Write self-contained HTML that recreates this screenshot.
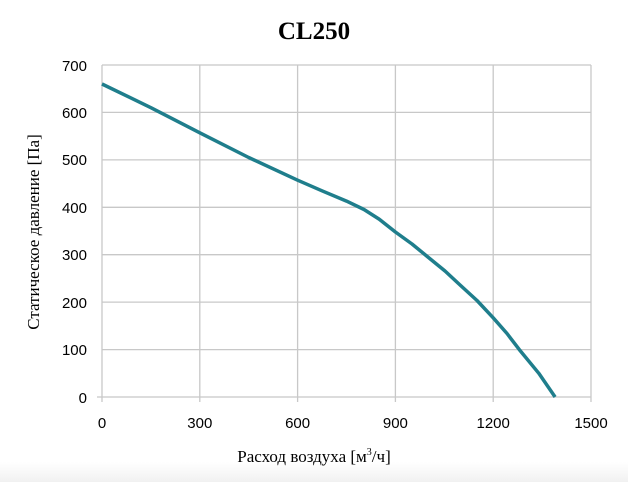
<!DOCTYPE html>
<html><head><meta charset="utf-8"><style>
body{margin:0;background:#fff}
svg{display:block}
</style></head><body>
<svg width="628" height="482" viewBox="0 0 628 482" xmlns="http://www.w3.org/2000/svg">
<defs><linearGradient id="g" x1="0" y1="0" x2="0" y2="1"><stop offset="0" stop-color="#fff"/><stop offset="1" stop-color="#f1f1f1"/></linearGradient></defs>
<rect x="0" y="462" width="628" height="20" fill="url(#g)"/>
<text x="314" y="39" text-anchor="middle" font-family="Liberation Serif, serif" font-weight="bold" font-size="25">CL250</text>
<g stroke="#c8c8c8" stroke-width="1.3">
<line x1="102" y1="65" x2="591" y2="65"/><line x1="102" y1="112.4" x2="591" y2="112.4"/><line x1="102" y1="159.9" x2="591" y2="159.9"/><line x1="102" y1="207.3" x2="591" y2="207.3"/><line x1="102" y1="254.7" x2="591" y2="254.7"/><line x1="102" y1="302.1" x2="591" y2="302.1"/><line x1="102" y1="349.6" x2="591" y2="349.6"/><line x1="97" y1="397" x2="591" y2="397"/>
<line x1="102" y1="65" x2="102" y2="402"/><line x1="199.8" y1="65" x2="199.8" y2="402"/><line x1="297.6" y1="65" x2="297.6" y2="402"/><line x1="395.4" y1="65" x2="395.4" y2="402"/><line x1="493.2" y1="65" x2="493.2" y2="402"/><line x1="591" y1="65" x2="591" y2="402"/>
</g>
<g font-family="Liberation Sans, sans-serif" font-size="15" fill="#000" text-anchor="end">
<text x="87" y="71">700</text><text x="87" y="118">600</text><text x="87" y="165">500</text><text x="87" y="213">400</text><text x="87" y="260">300</text><text x="87" y="308">200</text><text x="87" y="355">100</text><text x="87" y="403">0</text>
</g>
<g font-family="Liberation Sans, sans-serif" font-size="15" fill="#000" text-anchor="middle">
<text x="102" y="428">0</text><text x="199.8" y="428">300</text><text x="297.6" y="428">600</text><text x="395.4" y="428">900</text><text x="493.2" y="428">1200</text><text x="591" y="428">1500</text>
</g>
<text x="314" y="462" text-anchor="middle" font-family="Liberation Serif, serif" font-size="17">Расход воздуха [м<tspan font-size="10" dy="-7">3</tspan><tspan dy="7">/ч]</tspan></text>
<text transform="translate(39,232) rotate(-90)" text-anchor="middle" font-family="Liberation Serif, serif" font-size="17">Статическое давление [Па]</text>
<polyline points="102,84 150.9,107.7 199.8,132.8 248.7,157.5 297.6,180.2 322,190.8 346.5,201.1 364,209.5 379.1,219.1 395.4,232 412,244 428,257.1 445,271 460.6,285.5 477,300.5 493.2,317.8 507,333.5 519.3,349.6 538.8,373.3 555.1,397" fill="none" stroke="#1f7e8c" stroke-width="3.5" stroke-linejoin="round"/>
</svg>
</body></html>
